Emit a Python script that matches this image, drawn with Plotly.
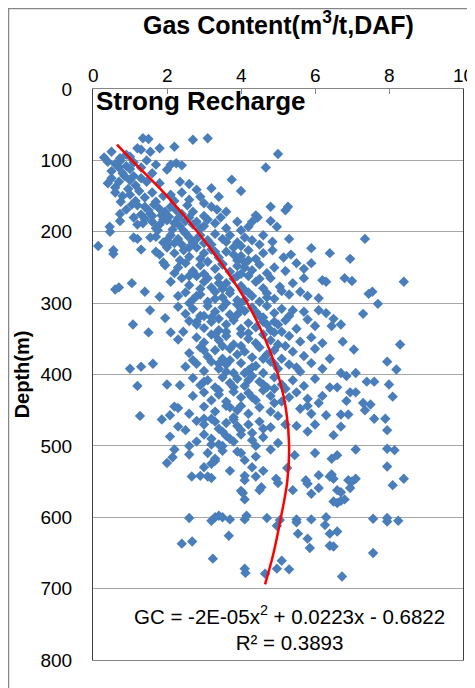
import plotly.graph_objects as go

# gas content (m3/t, daf) and depth (m)
gas_content = [
    1.35, 1.5, 2.7, 3.1, 0.5, 1.2, 1.3, 1.55, 1.8, 2.2, 5.0, 0.9, 1.0, 0.3, 0.75,
    0.4, 0.73, 0.6, 0.9, 1.1, 1.3, 1.7, 2.1, 2.25, 2.4, 1.6, 2.0, 0.5, 0.8, 1.0, 4.67, 1.45, 0.7,
    0.5, 0.7, 0.85, 1.0, 1.15, 1.3, 0.6, 1.8, 2.35, 2.6, 3.75, 3.2, 2.8, 1.45, 0.95, 1.1, 0.4,
    0.6, 0.8, 1.0, 1.25, 1.4, 1.6, 1.9, 2.1, 2.9, 3.4, 4.0, 2.4, 2.6, 0.75, 1.15, 1.7, 2.2, 3.0,
    1.2, 1.4, 1.5, 1.65, 1.8, 1.95, 2.1, 2.25, 2.4, 1.3, 1.6, 1.85, 2.05, 0.9, 0.73, 3.35, 3.6,
    4.8, 5.27, 5.2, 4.4, 4.45, 2.7, 3.0, 3.2, 2.55, 1.05,
    0.45, 0.73, 1.4, 1.6, 1.8, 2.0, 2.2, 2.35, 2.5, 2.7, 2.9, 3.1, 3.3, 3.9, 4.2, 4.3, 4.8, 4.97,
    3.6, 2.15, 1.75, 3.45, 4.0, 1.2,
    0.46, 0.14, 1.1, 1.2, 1.55, 1.7, 2.1, 2.3, 2.5, 2.7, 2.9, 3.1, 3.3, 3.5, 3.7, 3.9, 4.1, 4.3,
    4.6, 4.85, 5.3, 2.4, 3.2, 7.35, 2.0, 1.9, 2.6,
    0.55, 1.3, 1.7, 1.8, 2.0, 2.2, 2.45, 2.6, 2.8, 3.0, 3.2, 3.4, 3.6, 3.8, 4.0, 4.2, 4.4, 4.6,
    4.85, 5.9, 5.15, 3.9, 2.35, 0.55, 5.35,
    1.95, 1.9, 2.3, 2.5, 2.7, 2.9, 3.1, 3.3, 3.5, 3.7, 3.9, 4.1, 4.3, 4.5, 4.7, 4.9, 5.5, 5.9,
    6.4, 6.95, 2.2, 3.0, 4.0, 5.2, 5.7,
    2.1, 1.05, 0.6, 0.7, 2.4, 2.6, 2.8, 3.0, 3.2, 3.4, 3.6, 3.8, 4.0, 4.2, 4.4, 4.6, 4.8, 5.05,
    5.7, 6.2, 6.3, 6.8, 7.0, 8.4, 5.4, 3.5, 2.9,
    1.4, 1.8, 2.3, 2.5, 2.7, 2.9, 3.1, 3.3, 3.5, 3.7, 3.9, 4.1, 4.3, 4.5, 4.7, 4.9, 5.3, 5.6,
    5.8, 6.1, 7.55, 7.45, 3.6, 2.6, 4.0,
    1.54, 1.95, 2.3, 2.5, 2.7, 2.9, 3.1, 3.3, 3.5, 3.7, 3.9, 4.1, 4.3, 4.5, 4.7, 4.9, 5.1, 5.4,
    5.7, 6.1, 6.3, 7.7, 7.3, 3.2, 4.6,
    1.08, 2.8, 2.44, 2.6, 3.0, 3.2, 3.4, 3.6, 3.8, 4.0, 4.2, 4.4, 4.6, 4.8, 5.0, 5.2, 5.5, 5.8,
    6.0, 6.5, 6.7, 6.45, 5.1,
    1.5, 2.1, 2.3, 2.8, 3.0, 3.2, 3.4, 3.6, 3.8, 4.0, 4.2, 4.4, 4.6, 4.8, 5.0, 5.3, 5.6, 5.9,
    6.2, 6.75, 8.3, 3.5, 4.9,
    2.6, 2.9, 3.1, 3.3, 3.5, 3.7, 3.9, 4.1, 4.3, 4.5, 4.7, 4.9, 5.1, 5.4, 5.7, 6.0, 6.4, 7.05,
    1.0, 1.3, 1.62, 2.5, 2.8, 3.0, 3.2, 3.4, 3.6, 3.8, 4.0, 4.2, 4.4, 4.6, 4.8, 5.0, 5.3, 5.6,
    5.9, 6.2, 6.7, 6.85, 7.1, 7.95, 8.2,
    1.2, 2.0, 2.35, 2.7, 2.9, 3.1, 3.3, 3.5, 3.7, 3.9, 4.1, 4.3, 4.5, 4.7, 4.9, 5.1, 5.4, 5.7,
    6.0, 6.4, 6.6, 7.4, 7.6, 8.0, 5.2,
    2.7, 3.0, 3.2, 3.4, 3.6, 3.8, 4.0, 4.2, 4.4, 4.6, 4.8, 5.1, 5.5, 5.8, 6.1, 6.95, 7.1, 6.85,
    8.1, 7.3, 4.9,
    2.2, 2.3, 1.27, 2.08, 3.0, 3.3, 3.6, 3.9, 4.2, 4.5, 4.8, 5.0, 5.6, 5.9, 6.3, 6.7, 6.9, 7.5,
    7.35, 3.8, 2.6,
    1.86, 2.3, 2.8, 3.0, 3.2, 3.4, 3.6, 3.8, 4.0, 4.2, 4.5, 4.8, 5.5, 6.0, 6.7, 7.6, 7.9, 7.95,
    2.5, 3.5,
    2.08, 2.8, 3.0, 3.2, 3.4, 3.6, 3.8, 4.0, 4.3, 4.6, 5.0, 6.5, 2.6, 3.5,
    2.2, 2.15, 2.6, 3.1, 3.5, 3.9, 4.0, 4.4, 4.8, 5.45, 6.0, 6.45, 6.6, 7.1, 7.95, 8.15, 3.3, 4.1,
    2.0, 3.3, 3.2, 3.0, 4.3, 5.25, 7.95, 4.6, 3.7,
    2.67, 2.9, 3.1, 3.2, 4.1, 4.1, 4.4, 4.95, 5.0, 5.75, 5.8, 6.1, 6.4, 6.5, 6.45, 6.9, 7.0, 7.1,
    6.95, 6.1, 8.1, 8.4, 4.0, 4.05, 4.5, 4.55, 5.4, 5.9, 6.6, 6.7, 4.1, 6.5, 6.6, 6.7, 6.8,
    2.6, 3.3, 3.4, 3.5, 3.7, 4.1, 4.15, 4.7, 4.97, 5.5, 5.5, 5.9, 6.27, 6.3, 7.57, 7.95, 7.95,
    8.25, 5.05, 3.2,
    2.4, 2.68, 3.67, 3.24, 4.12, 4.1, 4.65, 5.1, 4.97, 5.3, 5.54, 5.8, 5.86, 6.4, 6.5, 6.4, 6.6,
    6.73, 7.57,
    # overlapping points in the dense core
    1.35, 1.55, 1.9, 2.3, 2.6, 2.8, 3.0, 1.1, 1.7, 2.45,
    2.0, 2.2, 2.6, 2.8, 3.0, 3.3, 3.6, 3.8, 4.0, 4.2, 4.5, 2.9, 3.5, 4.1,
    2.6, 3.1, 3.4, 3.7, 3.9, 4.2, 4.5, 4.7, 4.1, 3.3, 2.8, 5.1,
    2.8, 3.0, 3.4, 3.6, 3.9, 4.2, 4.4, 4.7, 4.0, 3.3, 5.3, 4.9,
    3.0, 3.4, 3.7, 4.0, 4.3, 4.6, 4.9, 5.2, 3.6, 4.1, 2.7, 5.5,
    3.0, 3.4, 3.8, 4.0, 4.3, 4.6, 4.9, 5.3, 3.7, 4.2, 6.2, 5.8,
    3.0, 3.3, 3.9, 4.3, 4.6, 3.2, 4.4, 5.2, 3.7, 5.8,
]

depth = [
    69, 70, 71, 69, 88, 83, 85, 88, 83, 81, 91, 92, 95, 96, 100,
    102, 97, 105, 108, 103, 110, 106, 106, 104, 107, 118, 113, 115, 118, 112, 110, 100, 110,
    125, 130, 122, 128, 135, 125, 138, 132, 130, 133, 127, 139, 141, 130, 140, 122, 132,
    145, 150, 148, 143, 152, 145, 150, 148, 151, 151, 143, 145, 155, 158, 157, 158, 157, 160,
    163, 165, 170, 162, 168, 172, 165, 170, 175, 176, 178, 177, 179, 169, 175, 169, 172,
    165, 165, 170, 177, 180, 172, 178, 165, 163, 162,
    193, 185, 182, 186, 190, 184, 188, 192, 185, 190, 195, 183, 188, 186, 193, 186, 185, 193,
    195, 197, 198, 180, 198, 190,
    200, 220, 208, 210, 208, 207, 205, 210, 202, 215, 205, 212, 203, 210, 205, 215, 208, 212,
    205, 214, 210, 218, 218, 210, 219, 215, 208,
    226, 225, 228, 232, 222, 230, 226, 235, 222, 230, 225, 236, 228, 222, 234, 226, 238, 230,
    226, 223, 236, 240, 240, 231, 232,
    247, 243, 250, 244, 255, 247, 242, 252, 245, 256, 248, 243, 254, 246, 258, 250, 244, 244,
    230, 238, 258, 259, 259, 255, 252,
    270, 272, 281, 278, 265, 275, 262, 270, 278, 264, 272, 266, 276, 262, 270, 279, 265, 277,
    265, 268, 270, 265, 269, 270, 272, 280, 280,
    284, 291, 290, 285, 295, 288, 298, 284, 292, 286, 296, 282, 290, 298, 286, 294, 288, 284,
    290, 293, 284, 287, 300, 300, 300,
    310, 321, 305, 315, 308, 318, 304, 312, 306, 316, 302, 311, 306, 318, 304, 314, 308, 310,
    312, 310, 314, 301, 315, 320, 320,
    330, 330, 340, 325, 335, 326, 338, 330, 324, 336, 328, 334, 326, 338, 330, 324, 336, 323,
    332, 322, 330, 332, 340,
    341, 341, 351, 348, 355, 344, 352, 346, 358, 343, 350, 356, 344, 352, 358, 346, 354, 348,
    356, 354, 358, 360, 341,
    370, 362, 375, 366, 378, 364, 372, 368, 376, 362, 372, 366, 378, 368, 374, 364, 378, 365,
    392, 389, 385, 389, 385, 395, 382, 392, 386, 398, 384, 394, 388, 398, 382, 392, 386, 396,
    384, 392, 398, 402, 398, 382, 393,
    416, 414, 415, 405, 415, 408, 418, 404, 412, 406, 416, 402, 410, 418, 404, 414, 408, 416,
    406, 418, 418, 410, 410, 414, 420,
    430, 425, 436, 428, 438, 424, 432, 426, 436, 422, 430, 438, 425, 434, 440, 425, 425, 437,
    431, 440, 440,
    445, 447, 458, 457, 445, 452, 444, 450, 455, 446, 452, 458, 448, 455, 457, 456, 456, 442,
    450, 460, 455,
    463, 473, 465, 470, 462, 476, 468, 463, 478, 470, 466, 474, 472, 470, 473, 462, 462, 478,
    478, 480,
    487, 494, 484, 490, 498, 486, 494, 484, 492, 488, 496, 485, 500, 500,
    505, 516, 512, 510, 507, 508, 510, 515, 505, 513, 510, 518, 513, 505, 504, 506, 518, 520,
    524, 521, 525, 530, 530, 531, 529, 535, 535,
    543, 542, 543, 545, 542, 548, 543, 546, 552, 548, 553, 541, 543, 546, 540, 548, 550, 546,
    559, 559, 555, 546, 563, 566, 562, 558, 562, 567, 562, 565, 575, 578, 580, 577, 575,
    601, 600, 598, 600, 603, 603, 598, 601, 612, 607, 603, 603, 611, 600, 602, 601, 606,
    605, 604, 605,
    637, 634, 626, 658, 678, 672, 679, 661, 672, 673, 623, 630, 643, 640, 641, 623, 620,
    683, 650,
    # overlapping points in the dense core
    188, 175, 183, 181, 180, 186, 192, 180, 195, 199,
    212, 216, 222, 210, 216, 228, 214, 232, 220, 240, 218, 238, 246, 250,
    262, 265, 272, 282, 262, 285, 266, 292, 296, 294, 290, 283,
    326, 318, 322, 340, 316, 342, 312, 330, 308, 344, 318, 326,
    366, 385, 380, 360, 390, 378, 385, 360, 396, 398, 380, 390,
    410, 422, 418, 444, 432, 414, 420, 432, 446, 408, 430, 444,
    462, 466, 472, 482, 476, 498, 500, 470, 490, 480,
]

# polynomial trend line as drawn on the chart
trend_depth = [78, 100, 150, 200, 250, 300, 350, 400, 450, 500, 550, 600, 650, 694]
trend_gc = [0.65, 1.05, 2.0, 2.82, 3.55, 4.17, 4.65, 5.0, 5.22, 5.3, 5.25, 5.08, 4.88, 4.65]

x_ticks = [0, 2, 4, 6, 8, 10]
y_ticks = [0, 100, 200, 300, 400, 500, 600, 700, 800]

FONT = "Arial, Liberation Sans, sans-serif"
n = min(len(gas_content), len(depth))

fig = go.Figure()
fig.add_trace(go.Scatter(
    x=gas_content[:n], y=depth[:n],
    mode='markers',
    marker=dict(symbol='diamond', size=8, color='#4a7ebb'),
    showlegend=False
))
fig.add_trace(go.Scatter(
    x=trend_gc, y=trend_depth,
    mode='lines',
    line=dict(color='#ff0000', width=2.5, shape='spline'),
    showlegend=False
))

# top axis labels placed on the x scale, just above the plot frame
tick_notes = [
    dict(text=str(v), x=v, xref='x', y=1.0245, yref='paper',
         xanchor='center', yanchor='middle', showarrow=False,
         font=dict(size=19, color='black'))
    for v in x_ticks
]

# the page body adds an 8px margin, so the figure is sized to fit inside it
fig.update_layout(
    width=467, height=680,
    margin=dict(l=85, r=12, t=81, b=28),
    paper_bgcolor='white',
    plot_bgcolor='white',
    font=dict(family=FONT, color='black', size=19),
    xaxis=dict(
        side='top', range=[0, 10], tickvals=x_ticks, showticklabels=False,
        ticks='inside', ticklen=5, tickcolor='#868686',
        showline=True, linecolor='#868686', mirror=True,
        showgrid=False, zeroline=False, automargin=False,
    ),
    yaxis=dict(
        range=[800, 0], tickvals=y_ticks,
        tickfont=dict(family=FONT, size=19, color='black'),
        ticks='', showline=True, linecolor='#404040', mirror=True,
        showgrid=True, gridcolor='#a6a6a6', gridwidth=1,
        zeroline=False, automargin=False, ticklabelstandoff=16,
        title=dict(text='<b>Depth(m)</b>', font=dict(size=20), standoff=5),
    ),
    shapes=[dict(
        type='rect', xref='paper', yref='paper',
        x0=-0.2284, x1=1.028, y0=-0.06, y1=1.141,
        line=dict(color='#868686', width=1.5), layer='below'
    )],
    annotations=tick_notes + [
        dict(text='<b>Gas Content(m<sup>3</sup>/t,DAF)</b>', xref='paper', yref='paper',
             x=0.5, y=1.115, xanchor='center', yanchor='middle', showarrow=False,
             font=dict(size=25)),
        dict(text='<b>Strong Recharge</b>', xref='paper', yref='paper',
             x=0.004, y=1.009, xanchor='left', yanchor='top', showarrow=False,
             font=dict(size=26)),
        dict(text='GC = -2E-05x<sup>2</sup> + 0.0223x - 0.6822<br>R² = 0.3893',
             xref='paper', yref='paper', x=0.53, y=0.105,
             xanchor='center', yanchor='top', showarrow=False,
             font=dict(size=20.5)),
    ],
)

fig.write_html("out.html")
